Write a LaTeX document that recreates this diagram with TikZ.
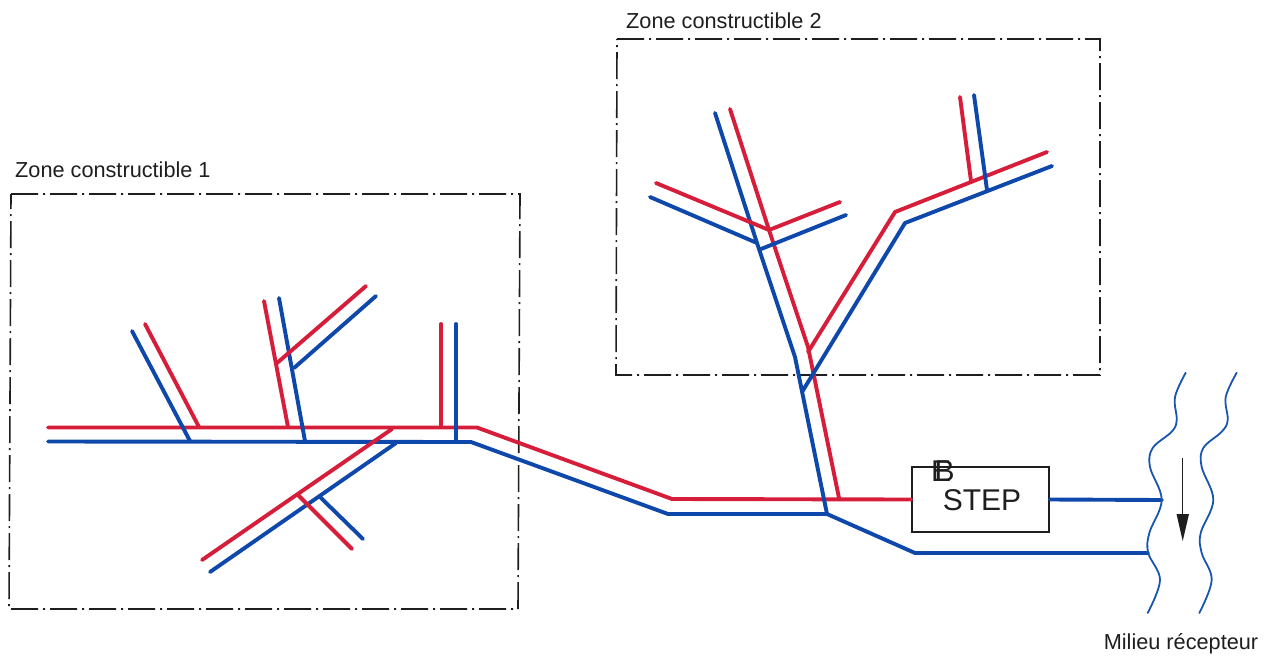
\documentclass[tikz,border=0pt]{standalone}
\usepackage{fontspec}
\setmainfont{Liberation Sans}
\definecolor{pipered}{RGB}{214,30,58}
\definecolor{pipeblue}{RGB}{14,72,170}
\definecolor{riverblue}{RGB}{25,85,175}
\definecolor{ink}{RGB}{30,30,30}
\tikzset{
  redpipe/.style={draw=pipered,line width=3.9pt,line cap=round,line join=round},
  bluepipe/.style={draw=pipeblue,line width=3.9pt,line cap=round,line join=round},
  river/.style={draw=riverblue,line width=1.8pt,line cap=round},
  zone/.style={draw=ink,line width=1.6pt,dash pattern=on 27pt off 5pt on 2pt off 5pt},
  lbl/.style={text=ink,font=\fontsize{21.7}{24}\selectfont,inner sep=0pt},
  stepbox/.style={draw=ink,line width=1.5pt,minimum width=137pt,minimum height=65pt,inner sep=0pt}
}
\begin{document}
\begin{tikzpicture}[x=1pt,y=-1pt]
\useasboundingbox (0,0) rectangle (1274,656);
% zones
\draw[zone] (11,194) -- (520,194) -- (518,609) -- (9,609) -- cycle;
\draw[zone] (617,39) -- (1100,39) -- (1100,375) -- (616,375) -- cycle;
\node[lbl,anchor=west] (z1) at (15,170) {Zone constructible 1};
\node[lbl,anchor=west] (z2) at (626,21) {Zone constructible 2};
\node[lbl] (milieu) at (1181,644) {Milieu récepteur};
% STEP
\node[stepbox] (step) at (980.5,499.5) {};
\node[text=ink,font=\fontsize{30}{32}\selectfont,inner sep=0pt] (steptxt) at (982,500) {STEP};
\foreach \g/\n/\dx in {E/b/-2,B/c/1.5}{
  \node[text=ink,font=\fontsize{30}{32}\selectfont,inner sep=0pt] (over\n) at (943+\dx,471) {\g};
}
% junctions
\coordinate (rs) at (48,427.5);
\coordinate (bs) at (48,441.5);
\coordinate (rb) at (477,427.5);
\coordinate (bb) at (471,442);
\coordinate (rc) at (672,499);
\coordinate (bc) at (668,514);
\coordinate (bj) at (827,514);
\coordinate (bk) at (915,553);
\coordinate (out2) at (1148,553);
\coordinate (out1) at (1162,500);
% main lines
\path[redpipe] (rs) -- (rb) -- (rc) -- (step.west);
\path[bluepipe] (bs) -- (bb) -- (bc) -- (bj) -- (bk) -- (out2);
\path[bluepipe] (step.east) -- (out1);
% zone 1 branches
\path[bluepipe] (132,331) -- (190,441);
\path[redpipe] (145,324) -- (199,427);
\path[redpipe] (264,301) -- (288,427);
\path[bluepipe] (279,298) -- (305,441);
\path[redpipe] (277,363) -- (366,286);
\path[bluepipe] (294,368) -- (376,296);
\path[redpipe] (441,324) -- (441,427);
\path[bluepipe] (456,324) -- (456,441);
\path[bluepipe] (396,443) -- (210,572);
\path[redpipe] (392,429) -- (202,560);
\path[bluepipe] (320,497) -- (363,539);
\path[redpipe] (298,495) -- (352,549);
% zone 2 branches
\path[bluepipe] (715,113) -- (757,243) -- (795,357) -- (827,514);
\path[redpipe] (730,109) -- (769,230) -- (808,347) -- (839,498);
\path[redpipe] (656,183) -- (769,230) -- (840,202);
\path[bluepipe] (650,197) -- (757,243);
\path[bluepipe] (761,249) -- (846,215);
\path[redpipe] (808,352) -- (895,212) -- (1047,152);
\path[bluepipe] (802,392) -- (905,223) -- (1052,166);
\path[redpipe] (960,97) -- (971,181);
\path[bluepipe] (974,95) -- (987,190);
% river
\draw[river] plot[smooth,tension=0.6] coordinates {(1185.7,372.7) (1175,397) (1176.7,420) (1171.7,431.7) (1152.7,448) (1150,467) (1161.7,500) (1149.3,533) (1148.3,553) (1160,580) (1147.7,613)};
\draw[river] plot[smooth,tension=0.6] coordinates {(1236.7,372.7) (1225.7,397) (1227.7,420) (1221.7,431.7) (1203.3,448) (1201.7,467) (1213.3,500) (1200.7,533) (1201.7,553) (1211.7,580) (1199.3,613)};
% flow arrow
\coordinate (fa) at (1182.7,458);
\coordinate (fb) at (1182.7,516);
\draw[ink,line width=1.5pt] (fa) -- (fb);
\fill[ink] (1176.5,514) -- (1189,514) -- (1182.7,541) -- cycle;
\end{tikzpicture}
\end{document}
